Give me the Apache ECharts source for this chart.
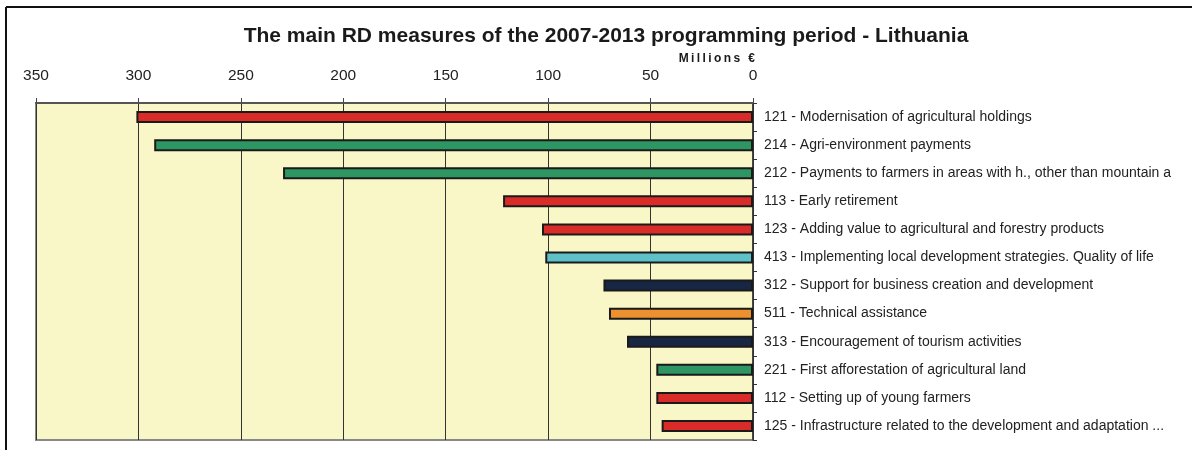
<!DOCTYPE html>
<html>
<head>
<meta charset="utf-8">
<style>
html,body{margin:0;padding:0;background:#fff;}
#chart{width:1192px;height:450px;}
</style>
<script src="https://cdn.jsdelivr.net/npm/echarts@6/dist/echarts.min.js"></script>
</head>
<body>
<div id="chart"></div>
<script>
const categories = [
  "121 - Modernisation of agricultural holdings",
  "214 - Agri-environment payments",
  "212 - Payments to farmers in areas with h., other than mountain a",
  "113 - Early retirement",
  "123 - Adding value to agricultural and forestry products",
  "413 - Implementing local development strategies. Quality of life",
  "312 - Support for business creation and development",
  "511 - Technical assistance",
  "313 - Encouragement of tourism activities",
  "221 - First afforestation of agricultural land",
  "112 - Setting up of young farmers",
  "125 - Infrastructure related to the development and adaptation ..."
];
const values = [301, 292.3, 229.4, 122, 103, 101.4, 73, 70.3, 61.5, 47.2, 47.2, 44.6];
const groups = ["axis1", "axis2", "axis2", "axis1", "axis1", "axis4", "axis3", "ta", "axis3", "axis2", "axis1", "axis1"];
const tickValues = [0, 50, 100, 150, 200, 250, 300, 350];

const groupColors = {
  axis1: "#D92B27",
  axis2: "#2E9662",
  axis3: "#172642",
  axis4: "#5EC1C8",
  ta: "#EC9030"
};

const chart = echarts.init(document.getElementById('chart'), null, {renderer: 'canvas'});
const FONT = "'Liberation Sans', Arial, sans-serif";
const TS = '\u2009';

chart.setOption({
  animation: false,
  backgroundColor: '#ffffff',
  title: [
    {
      text: 'The main RD measures of the 2007-2013 programming period - Lithuania',
      left: 601, top: 21, textAlign: 'center',
      textStyle: {fontFamily: FONT, fontSize: 21, fontWeight: 'bold', color: '#1a1a1a'}
    },
    {
      text: 'Millions €'.split('').join(TS),
      left: 750, top: 48, textAlign: 'right',
      textStyle: {fontFamily: FONT, fontSize: 12, fontWeight: 'bold', color: '#1a1a1a'}
    }
  ],
  graphic: [
    {type: 'line', shape: {x1: 6, y1: 7, x2: 1192, y2: 7}, style: {stroke: '#111', lineWidth: 2}},
    {type: 'line', shape: {x1: 6, y1: 7, x2: 6, y2: 450}, style: {stroke: '#111', lineWidth: 2}}
  ],
  grid: {
    left: 36, right: 439, top: 103, bottom: 10,
    show: true, backgroundColor: '#F9F6C8', borderColor: '#888', borderWidth: 2
  },
  xAxis: {
    type: 'value', position: 'top', inverse: true,
    min: 0, max: 350, interval: 50,
    axisLine: {show: true, lineStyle: {color: '#555', width: 2}},
    axisTick: {show: true, length: 5, inside: false, lineStyle: {color: '#444'}},
    axisLabel: {
      margin: 19, fontFamily: FONT, fontSize: 15.5, color: '#222',
      formatter: v => tickValues.includes(v) ? String(v) : ''
    },
    splitLine: {show: true, lineStyle: {color: '#333', width: 1}}
  },
  yAxis: {
    type: 'category', position: 'right', inverse: true,
    data: categories,
    axisLine: {show: true, lineStyle: {color: '#333', width: 1.5}},
    axisTick: {show: true, length: 4, alignWithLabel: false, lineStyle: {color: '#333'}},
    axisLabel: {margin: 11, fontFamily: FONT, fontSize: 14, color: '#222', align: 'left'},
    splitLine: {show: false}
  },
  series: [{
    type: 'bar',
    barWidth: 12,
    data: values.map((v, i) => ({
      value: v,
      itemStyle: {color: groupColors[groups[i]], borderColor: '#1a1a1a', borderWidth: 2}
    }))
  }]
});
</script>
</body>
</html>
